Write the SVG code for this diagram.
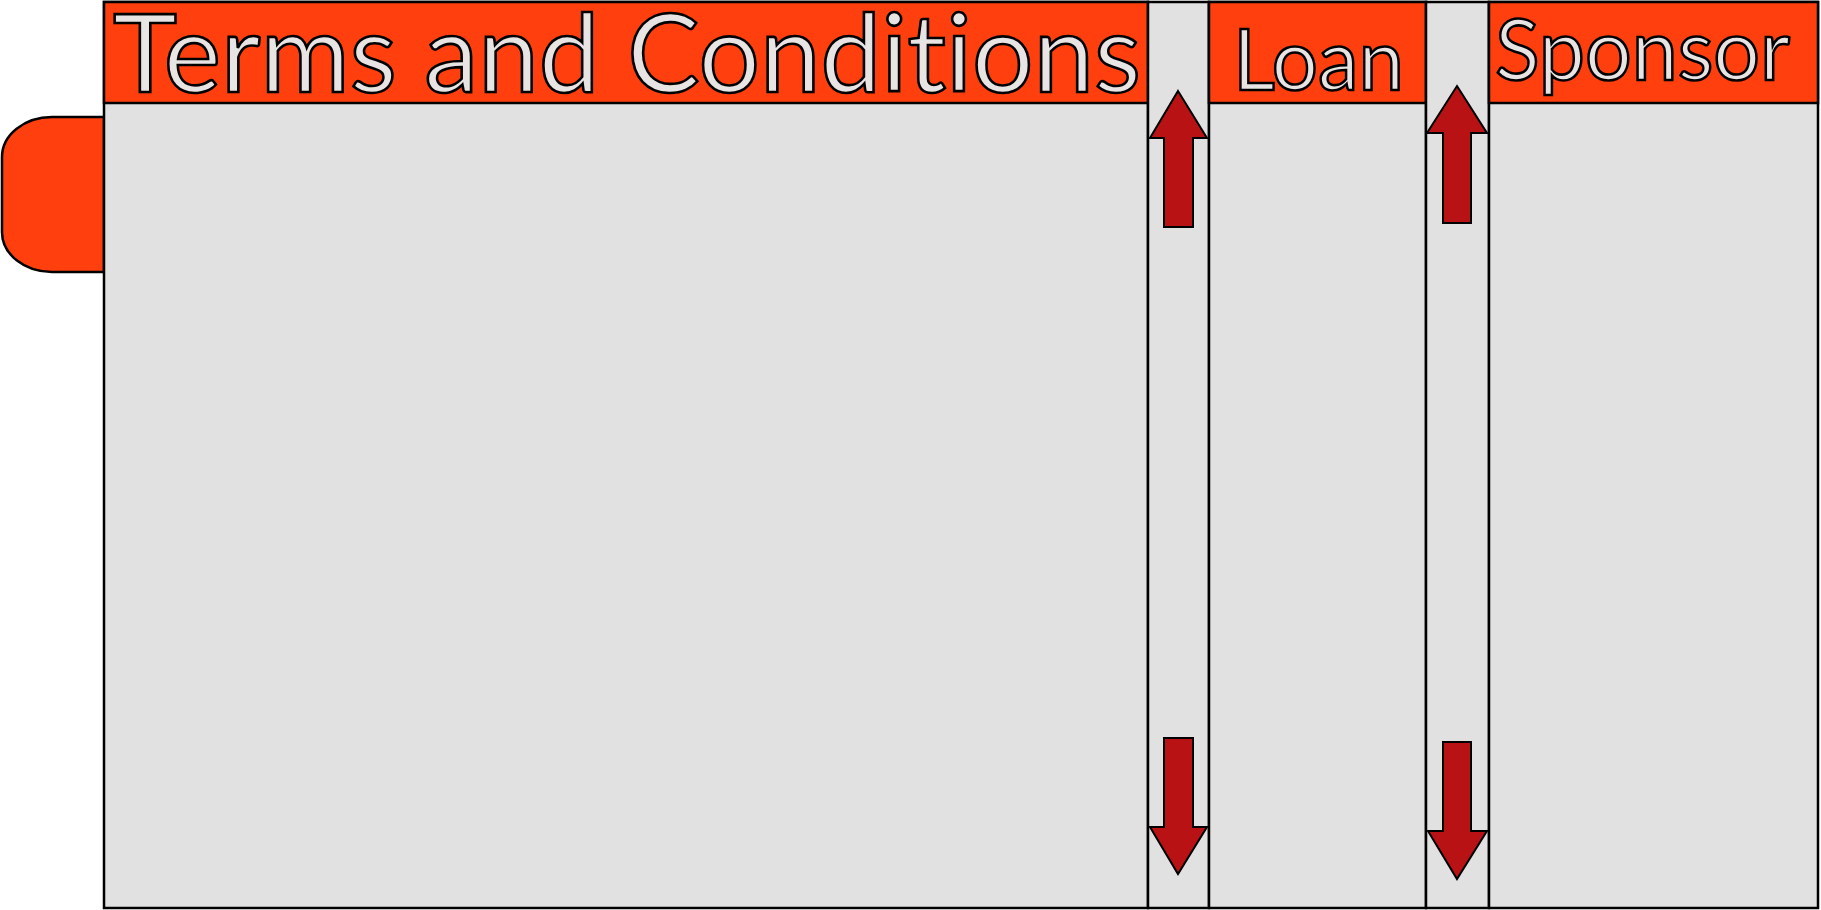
<svg xmlns="http://www.w3.org/2000/svg" width="1821" height="910" viewBox="0 0 1821 910">
<style>
.hdr{fill:#ff3f0d;stroke:#000;stroke-width:2.5}
.body{fill:#e2e1e1;stroke:#000;stroke-width:2.5}
.lbl{font-family:Lato,"Open Sans",sans-serif;fill:#e8e4e4;stroke:#000;stroke-width:2.6;font-variant-ligatures:none;font-feature-settings:"liga" 0,"clig" 0}
.arr{fill:#b81214;stroke:#000;stroke-width:2;stroke-linejoin:miter}
</style>
<rect width="1821" height="910" fill="#ffffff"/>
<g id="tab">
<path class="hdr" d="M104,117 H52 A50,40 0 0 0 2,157 V232 A50,40 0 0 0 52,272 H104 Z"/>
</g>
<g id="terms">
<rect class="body" x="104" y="2" width="1044" height="906"/>
<rect class="hdr" x="104" y="2" width="1044" height="101"/>
<text class="lbl" x="113" y="92" font-size="108" textLength="1028" lengthAdjust="spacingAndGlyphs">Terms and Conditions</text>
</g>
<g id="gap1">
<rect class="body" x="1148" y="2" width="61" height="906"/>
</g>
<g id="loan">
<rect class="body" x="1209" y="2" width="217" height="906"/>
<rect class="hdr" x="1209" y="2" width="217" height="101"/>
<text class="lbl" x="1233" y="90" font-size="86" textLength="171" lengthAdjust="spacingAndGlyphs">Loan</text>
</g>
<g id="gap2">
<rect class="body" x="1426" y="2" width="63" height="906"/>
</g>
<g id="sponsor">
<rect class="body" x="1489" y="2" width="329" height="906"/>
<rect class="hdr" x="1489" y="2" width="329" height="101"/>
<text class="lbl" x="1495" y="80" font-size="86" textLength="295" lengthAdjust="spacingAndGlyphs">Sponsor</text>
</g>
<g id="connectors">
<path class="arr" d="M1178,91 L1207,138 L1193,138 L1193,227 L1164,227 L1164,138 L1150,138 Z"/>
<path class="arr" d="M1164,738 H1193 V827 H1207 L1178,874 L1150,827 H1164 Z"/>
<path class="arr" d="M1457,86 L1487,133 L1471,133 V223 H1443 V133 H1427 Z"/>
<path class="arr" d="M1443,742 H1471 V831 H1487 L1457,879 L1428,831 H1443 Z"/>
</g>
</svg>
